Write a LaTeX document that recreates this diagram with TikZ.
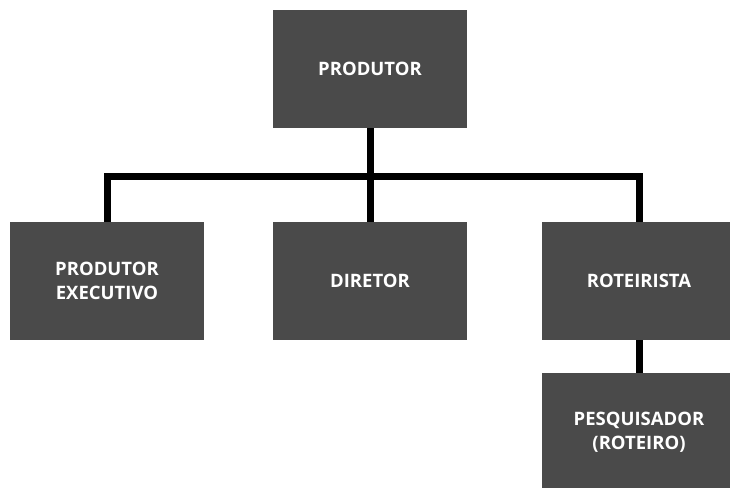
\documentclass[tikz,border=0pt]{standalone}
\usepackage{fontspec}
\setmainfont{Open Sans}
\begin{document}
\begin{tikzpicture}[x=1pt,y=1pt,
    cargo/.style={fill=boxgray, text=white, minimum width=194pt, minimum height=118pt,
        inner sep=0pt, align=center, font=\fontsize{18.5}{24}\selectfont\bfseries},
    elo/.style={line width=7pt, black}]
                \definecolor{boxgray}{HTML}{4A4A4A}
                \clip (0,0) rectangle (730,487);
                \useasboundingbox (0,0) rectangle (730,487);

                \coordinate (split) at (370,310);

                \node[cargo] (produtor) at (370,418) {PRODUTOR};
                \node[cargo] (prodexec) at (107,206) {PRODUTOR\\EXECUTIVO};
                \node[cargo] (diretor) at (370,206) {DIRETOR};
                \node[cargo] (roteirista) at (639,206) {ROTEIRISTA};
                \node[cargo] (pesquisador) at (639,55) {PESQUISADOR\\(ROTEIRO)};

                \draw[elo] (produtor.south) -- (split);
                \draw[elo] (split) -| (prodexec.north);
                \draw[elo] (split) -| (roteirista.north);
                \draw[elo] (split) -- (diretor.north);
                \draw[elo] (roteirista.south) -- (pesquisador.north);
            \end{tikzpicture}
\end{document}
